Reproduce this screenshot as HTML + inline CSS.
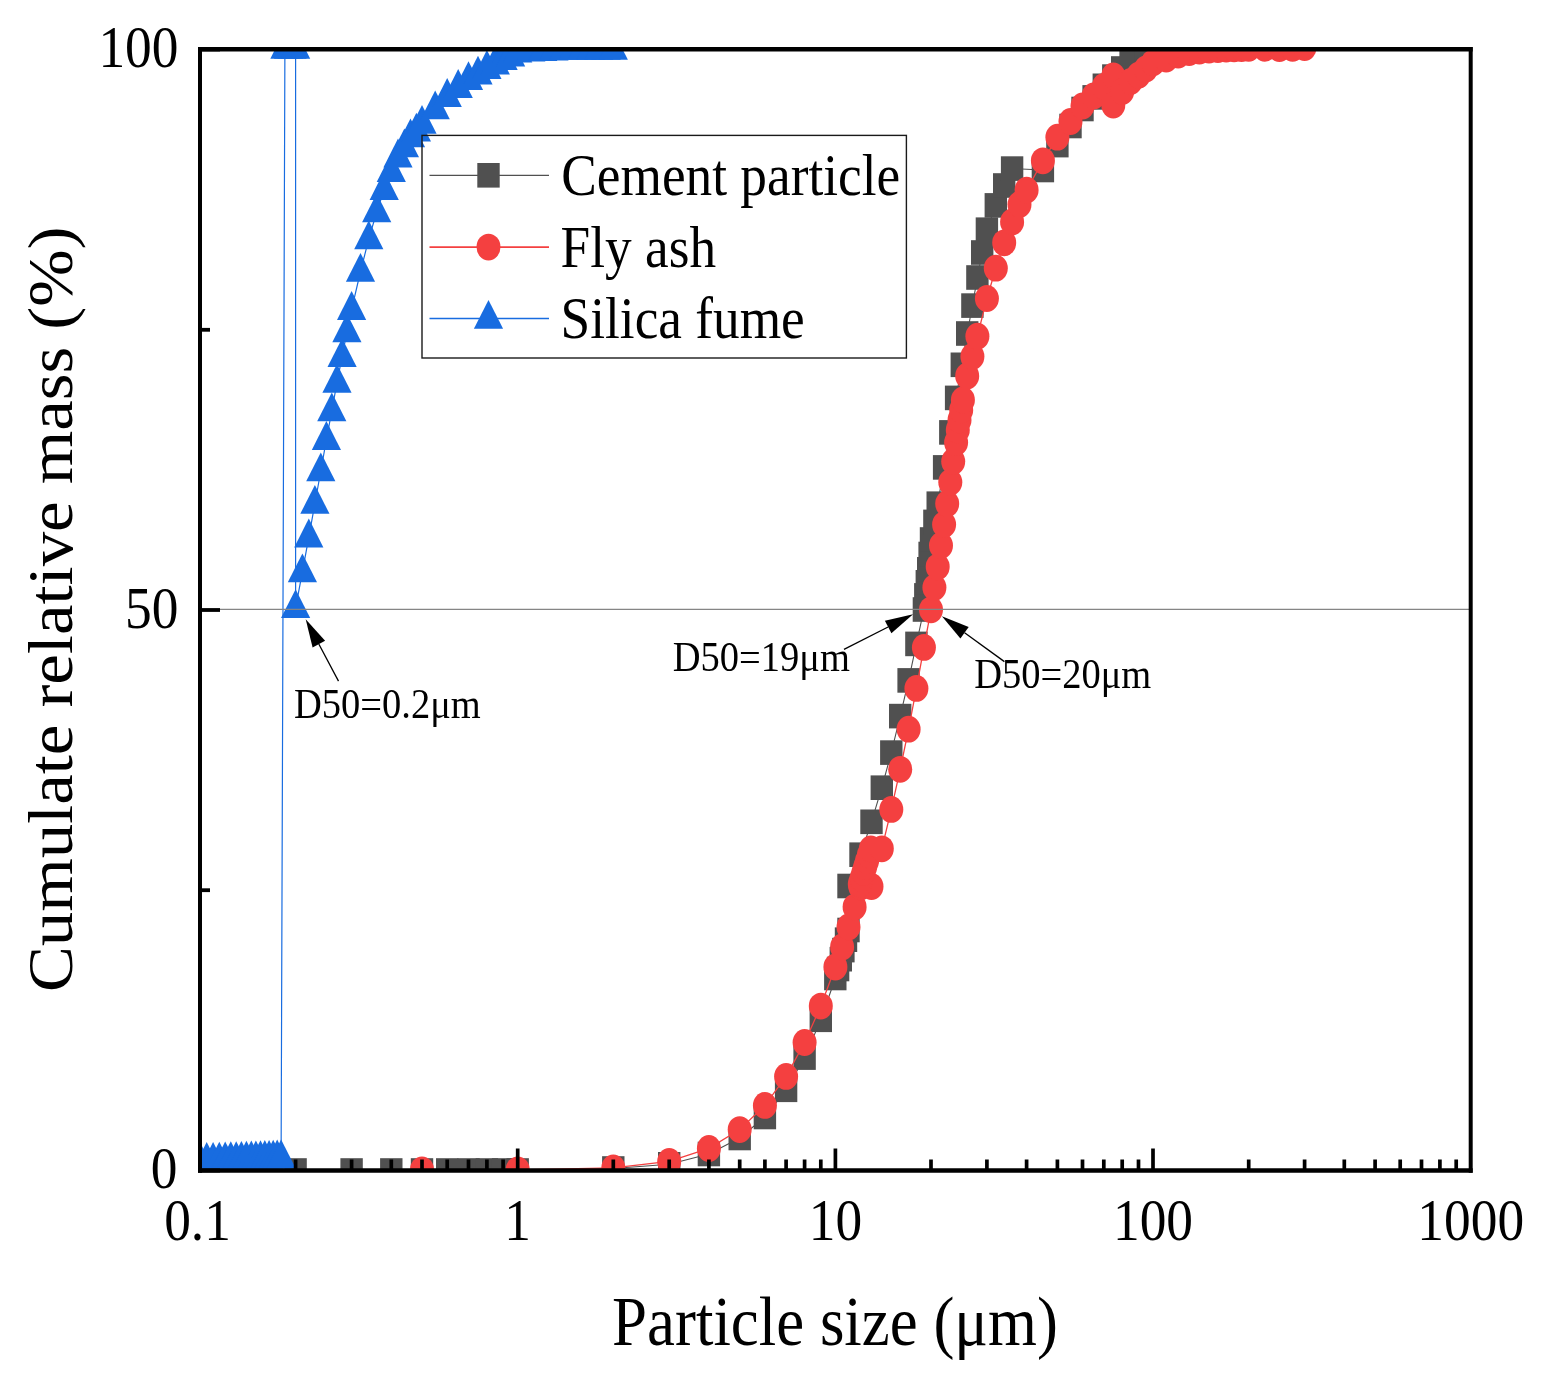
<!DOCTYPE html><html><head><meta charset="utf-8"><title>Particle size distribution</title><style>html,body{margin:0;padding:0;background:#fff;}svg{display:block}text{font-family:"Liberation Serif",serif;fill:#000}</style></head><body>
<svg width="1541" height="1383" viewBox="0 0 1541 1383">
<defs><clipPath id="pa"><rect x="200" y="49.5" width="1270.7" height="1121"/></clipPath></defs>
<g clip-path="url(#pa)">
<path d="M200.0,1170.5 L295.6,1170.5 L351.6,1170.5 L391.3,1170.5 L422.0,1170.5 L447.2,1170.5 L468.5,1170.5 L486.9,1170.5 L503.1,1170.5 L517.7,1170.5 L613.3,1168.5 L669.2,1164.3 L708.9,1154.0 L739.7,1138.0 L764.9,1117.0 L786.1,1089.8 L804.6,1057.6 L820.8,1019.8 L835.4,978.0 L838.1,969.0 L840.8,959.2 L843.4,950.1 L846.0,939.7 L848.5,930.0 L848.5,886.0 L860.5,854.7 L871.5,821.8 L881.8,787.7 L891.3,752.6 L900.2,716.1 L908.6,680.4 L916.4,643.9 L923.9,609.5 L925.3,595.4 L926.8,582.3 L928.2,569.3 L929.6,554.0 L931.0,539.5 L934.4,521.9 L937.7,503.7 L944.1,467.4 L950.3,432.4 L956.1,397.9 L961.8,364.8 L967.2,333.5 L972.4,305.6 L977.4,277.5 L982.2,252.5 L986.9,229.7 L995.8,205.4 L1004.2,185.5 L1012.1,168.6 L1042.9,170.0 L1057.4,145.1 L1070.5,126.0 L1082.5,109.0 L1093.6,97.4 L1103.8,85.8 L1113.3,76.6 L1122.2,68.5 L1130.6,62.0 L1138.5,56.0 L1145.9,52.0 L1153.0,49.5" fill="none" stroke="#505050" stroke-width="1.1"/>
<g fill="#505050"><rect x="188.8" y="1158.2" width="22.4" height="24.6"/><rect x="284.4" y="1158.2" width="22.4" height="24.6"/><rect x="340.4" y="1158.2" width="22.4" height="24.6"/><rect x="380.1" y="1158.2" width="22.4" height="24.6"/><rect x="410.8" y="1158.2" width="22.4" height="24.6"/><rect x="436.0" y="1158.2" width="22.4" height="24.6"/><rect x="457.3" y="1158.2" width="22.4" height="24.6"/><rect x="475.7" y="1158.2" width="22.4" height="24.6"/><rect x="491.9" y="1158.2" width="22.4" height="24.6"/><rect x="506.5" y="1158.2" width="22.4" height="24.6"/><rect x="602.1" y="1156.2" width="22.4" height="24.6"/><rect x="658.0" y="1152.0" width="22.4" height="24.6"/><rect x="697.7" y="1141.7" width="22.4" height="24.6"/><rect x="728.5" y="1125.7" width="22.4" height="24.6"/><rect x="753.7" y="1104.7" width="22.4" height="24.6"/><rect x="774.9" y="1077.5" width="22.4" height="24.6"/><rect x="793.4" y="1045.3" width="22.4" height="24.6"/><rect x="809.6" y="1007.5" width="22.4" height="24.6"/><rect x="824.1" y="965.7" width="22.4" height="24.6"/><rect x="826.9" y="956.7" width="22.4" height="24.6"/><rect x="829.6" y="946.9" width="22.4" height="24.6"/><rect x="832.2" y="937.8" width="22.4" height="24.6"/><rect x="834.8" y="927.4" width="22.4" height="24.6"/><rect x="837.3" y="917.7" width="22.4" height="24.6"/><rect x="837.3" y="873.7" width="22.4" height="24.6"/><rect x="849.3" y="842.4" width="22.4" height="24.6"/><rect x="860.3" y="809.5" width="22.4" height="24.6"/><rect x="870.6" y="775.4" width="22.4" height="24.6"/><rect x="880.1" y="740.3" width="22.4" height="24.6"/><rect x="889.0" y="703.8" width="22.4" height="24.6"/><rect x="897.4" y="668.1" width="22.4" height="24.6"/><rect x="905.2" y="631.6" width="22.4" height="24.6"/><rect x="912.7" y="597.2" width="22.4" height="24.6"/><rect x="914.1" y="583.1" width="22.4" height="24.6"/><rect x="915.6" y="570.0" width="22.4" height="24.6"/><rect x="917.0" y="557.0" width="22.4" height="24.6"/><rect x="918.4" y="541.7" width="22.4" height="24.6"/><rect x="919.8" y="527.2" width="22.4" height="24.6"/><rect x="923.2" y="509.6" width="22.4" height="24.6"/><rect x="926.5" y="491.4" width="22.4" height="24.6"/><rect x="932.9" y="455.1" width="22.4" height="24.6"/><rect x="939.1" y="420.1" width="22.4" height="24.6"/><rect x="944.9" y="385.6" width="22.4" height="24.6"/><rect x="950.6" y="352.5" width="22.4" height="24.6"/><rect x="956.0" y="321.2" width="22.4" height="24.6"/><rect x="961.2" y="293.3" width="22.4" height="24.6"/><rect x="966.2" y="265.2" width="22.4" height="24.6"/><rect x="971.0" y="240.2" width="22.4" height="24.6"/><rect x="975.7" y="217.4" width="22.4" height="24.6"/><rect x="984.6" y="193.1" width="22.4" height="24.6"/><rect x="993.0" y="173.2" width="22.4" height="24.6"/><rect x="1000.9" y="156.3" width="22.4" height="24.6"/><rect x="1031.7" y="157.7" width="22.4" height="24.6"/><rect x="1046.2" y="132.8" width="22.4" height="24.6"/><rect x="1059.3" y="113.7" width="22.4" height="24.6"/><rect x="1071.3" y="96.7" width="22.4" height="24.6"/><rect x="1082.4" y="85.1" width="22.4" height="24.6"/><rect x="1092.6" y="73.5" width="22.4" height="24.6"/><rect x="1102.1" y="64.3" width="22.4" height="24.6"/><rect x="1111.0" y="56.2" width="22.4" height="24.6"/><rect x="1119.4" y="49.7" width="22.4" height="24.6"/><rect x="1127.3" y="43.7" width="22.4" height="24.6"/><rect x="1134.7" y="39.7" width="22.4" height="24.6"/><rect x="1141.8" y="37.2" width="22.4" height="24.6"/></g>
<path d="M422.0,1169.8 L517.7,1169.8 L613.3,1167.9 L669.2,1161.4 L708.9,1148.4 L739.7,1129.6 L764.9,1105.4 L786.1,1076.4 L804.6,1042.5 L820.8,1006.1 L835.4,967.0 L842.1,946.9 L848.5,927.0 L854.6,907.1 L860.5,887.0 L871.5,886.5 L859.8,884.0 L861.6,878.2 L863.5,872.3 L865.3,866.5 L867.1,860.7 L869.0,854.8 L870.8,849.0 L881.8,848.8 L891.3,809.4 L900.2,769.3 L908.6,729.2 L916.4,688.4 L923.9,647.4 L931.0,609.8 L934.4,587.6 L937.7,566.8 L941.0,545.4 L944.1,524.6 L947.2,503.7 L950.3,482.3 L953.2,461.5 L956.1,442.6 L957.8,430.0 L959.5,420.0 L961.2,410.0 L962.9,400.0 L967.2,375.9 L972.4,356.4 L977.4,336.2 L986.9,298.5 L995.8,268.2 L1004.2,242.8 L1012.1,222.0 L1019.5,204.4 L1026.6,190.1 L1042.9,160.8 L1057.4,137.2 L1070.5,121.5 L1082.5,106.0 L1093.6,96.0 L1103.8,86.5 L1113.3,76.0 L1113.3,105.0 L1122.2,91.6 L1130.6,81.4 L1138.5,75.2 L1145.9,69.0 L1153.0,62.8 L1166.2,59.0 L1178.2,55.0 L1189.2,52.5 L1199.4,51.0 L1209.0,50.0 L1217.9,49.5 L1226.2,49.0 L1234.1,48.8 L1241.6,48.5 L1248.7,48.3 L1264.9,48.3 L1279.4,48.5 L1292.6,48.3 L1304.6,47.5" fill="none" stroke="#f44040" stroke-width="1.3"/>
<g fill="#f44040"><ellipse cx="422.0" cy="1169.8" rx="12" ry="13.4"/><ellipse cx="517.7" cy="1169.8" rx="12" ry="13.4"/><ellipse cx="613.3" cy="1167.9" rx="12" ry="13.4"/><ellipse cx="669.2" cy="1161.4" rx="12" ry="13.4"/><ellipse cx="708.9" cy="1148.4" rx="12" ry="13.4"/><ellipse cx="739.7" cy="1129.6" rx="12" ry="13.4"/><ellipse cx="764.9" cy="1105.4" rx="12" ry="13.4"/><ellipse cx="786.1" cy="1076.4" rx="12" ry="13.4"/><ellipse cx="804.6" cy="1042.5" rx="12" ry="13.4"/><ellipse cx="820.8" cy="1006.1" rx="12" ry="13.4"/><ellipse cx="835.4" cy="967.0" rx="12" ry="13.4"/><ellipse cx="842.1" cy="946.9" rx="12" ry="13.4"/><ellipse cx="848.5" cy="927.0" rx="12" ry="13.4"/><ellipse cx="854.6" cy="907.1" rx="12" ry="13.4"/><ellipse cx="860.5" cy="887.0" rx="12" ry="13.4"/><ellipse cx="871.5" cy="886.5" rx="12" ry="13.4"/><ellipse cx="859.8" cy="884.0" rx="12" ry="13.4"/><ellipse cx="861.6" cy="878.2" rx="12" ry="13.4"/><ellipse cx="863.5" cy="872.3" rx="12" ry="13.4"/><ellipse cx="865.3" cy="866.5" rx="12" ry="13.4"/><ellipse cx="867.1" cy="860.7" rx="12" ry="13.4"/><ellipse cx="869.0" cy="854.8" rx="12" ry="13.4"/><ellipse cx="870.8" cy="849.0" rx="12" ry="13.4"/><ellipse cx="881.8" cy="848.8" rx="12" ry="13.4"/><ellipse cx="891.3" cy="809.4" rx="12" ry="13.4"/><ellipse cx="900.2" cy="769.3" rx="12" ry="13.4"/><ellipse cx="908.6" cy="729.2" rx="12" ry="13.4"/><ellipse cx="916.4" cy="688.4" rx="12" ry="13.4"/><ellipse cx="923.9" cy="647.4" rx="12" ry="13.4"/><ellipse cx="931.0" cy="609.8" rx="12" ry="13.4"/><ellipse cx="934.4" cy="587.6" rx="12" ry="13.4"/><ellipse cx="937.7" cy="566.8" rx="12" ry="13.4"/><ellipse cx="941.0" cy="545.4" rx="12" ry="13.4"/><ellipse cx="944.1" cy="524.6" rx="12" ry="13.4"/><ellipse cx="947.2" cy="503.7" rx="12" ry="13.4"/><ellipse cx="950.3" cy="482.3" rx="12" ry="13.4"/><ellipse cx="953.2" cy="461.5" rx="12" ry="13.4"/><ellipse cx="956.1" cy="442.6" rx="12" ry="13.4"/><ellipse cx="957.8" cy="430.0" rx="12" ry="13.4"/><ellipse cx="959.5" cy="420.0" rx="12" ry="13.4"/><ellipse cx="961.2" cy="410.0" rx="12" ry="13.4"/><ellipse cx="962.9" cy="400.0" rx="12" ry="13.4"/><ellipse cx="967.2" cy="375.9" rx="12" ry="13.4"/><ellipse cx="972.4" cy="356.4" rx="12" ry="13.4"/><ellipse cx="977.4" cy="336.2" rx="12" ry="13.4"/><ellipse cx="986.9" cy="298.5" rx="12" ry="13.4"/><ellipse cx="995.8" cy="268.2" rx="12" ry="13.4"/><ellipse cx="1004.2" cy="242.8" rx="12" ry="13.4"/><ellipse cx="1012.1" cy="222.0" rx="12" ry="13.4"/><ellipse cx="1019.5" cy="204.4" rx="12" ry="13.4"/><ellipse cx="1026.6" cy="190.1" rx="12" ry="13.4"/><ellipse cx="1042.9" cy="160.8" rx="12" ry="13.4"/><ellipse cx="1057.4" cy="137.2" rx="12" ry="13.4"/><ellipse cx="1070.5" cy="121.5" rx="12" ry="13.4"/><ellipse cx="1082.5" cy="106.0" rx="12" ry="13.4"/><ellipse cx="1093.6" cy="96.0" rx="12" ry="13.4"/><ellipse cx="1103.8" cy="86.5" rx="12" ry="13.4"/><ellipse cx="1113.3" cy="76.0" rx="12" ry="13.4"/><ellipse cx="1113.3" cy="105.0" rx="12" ry="13.4"/><ellipse cx="1122.2" cy="91.6" rx="12" ry="13.4"/><ellipse cx="1130.6" cy="81.4" rx="12" ry="13.4"/><ellipse cx="1138.5" cy="75.2" rx="12" ry="13.4"/><ellipse cx="1145.9" cy="69.0" rx="12" ry="13.4"/><ellipse cx="1153.0" cy="62.8" rx="12" ry="13.4"/><ellipse cx="1166.2" cy="59.0" rx="12" ry="13.4"/><ellipse cx="1178.2" cy="55.0" rx="12" ry="13.4"/><ellipse cx="1189.2" cy="52.5" rx="12" ry="13.4"/><ellipse cx="1199.4" cy="51.0" rx="12" ry="13.4"/><ellipse cx="1209.0" cy="50.0" rx="12" ry="13.4"/><ellipse cx="1217.9" cy="49.5" rx="12" ry="13.4"/><ellipse cx="1226.2" cy="49.0" rx="12" ry="13.4"/><ellipse cx="1234.1" cy="48.8" rx="12" ry="13.4"/><ellipse cx="1241.6" cy="48.5" rx="12" ry="13.4"/><ellipse cx="1248.7" cy="48.3" rx="12" ry="13.4"/><ellipse cx="1264.9" cy="48.3" rx="12" ry="13.4"/><ellipse cx="1279.4" cy="48.5" rx="12" ry="13.4"/><ellipse cx="1292.6" cy="48.3" rx="12" ry="13.4"/><ellipse cx="1304.6" cy="47.5" rx="12" ry="13.4"/></g>
<path d="M200.0,1160.7 L206.7,1160.5 L213.1,1160.4 L219.3,1160.2 L225.2,1160.0 L230.8,1159.8 L236.2,1159.7 L241.4,1159.5 L246.4,1159.3 L251.3,1159.1 L255.9,1159.0 L260.5,1158.8 L264.8,1158.6 L269.1,1158.4 L273.2,1158.2 L277.2,1158.1 L281.1,1157.9 L284.9,48.4 L288.6,48.4 L292.1,48.4 L295.6,48.4 L295.6,607.8 L302.4,571.9 L308.8,537.1 L314.9,503.5 L320.8,471.0 L326.4,439.6 L331.8,411.0 L337.0,382.4 L342.1,356.7 L346.9,332.0 L351.6,309.6 L360.5,271.5 L368.8,238.9 L376.7,212.0 L384.2,189.6 L391.3,171.7 L398.0,157.1 L404.4,147.0 L410.5,136.9 L416.4,131.3 L422.0,123.5 L435.2,108.9 L447.2,96.6 L458.2,87.6 L468.5,79.8 L478.0,74.2 L486.9,68.6 L495.3,64.1 L503.1,59.6 L510.6,56.2 L517.7,52.3 L530.8,51.2 L542.8,50.6 L553.9,50.1 L564.1,49.5 L573.6,49.5 L582.5,49.5 L590.9,49.5 L598.8,49.5 L606.2,49.5 L613.3,49.5" fill="none" stroke="#186ce0" stroke-width="1.2"/>
<g fill="#186ce0"><path d="M200.0,1142.2 L214.6,1171.0 L185.4,1171.0Z"/><path d="M206.7,1142.0 L221.3,1170.8 L192.1,1170.8Z"/><path d="M213.1,1141.9 L227.7,1170.7 L198.5,1170.7Z"/><path d="M219.3,1141.7 L233.9,1170.5 L204.7,1170.5Z"/><path d="M225.2,1141.5 L239.8,1170.3 L210.6,1170.3Z"/><path d="M230.8,1141.3 L245.4,1170.1 L216.2,1170.1Z"/><path d="M236.2,1141.2 L250.8,1170.0 L221.6,1170.0Z"/><path d="M241.4,1141.0 L256.0,1169.8 L226.8,1169.8Z"/><path d="M246.4,1140.8 L261.0,1169.6 L231.8,1169.6Z"/><path d="M251.3,1140.6 L265.9,1169.4 L236.7,1169.4Z"/><path d="M255.9,1140.5 L270.5,1169.2 L241.3,1169.2Z"/><path d="M260.5,1140.3 L275.1,1169.1 L245.9,1169.1Z"/><path d="M264.8,1140.1 L279.4,1168.9 L250.2,1168.9Z"/><path d="M269.1,1139.9 L283.7,1168.7 L254.5,1168.7Z"/><path d="M273.2,1139.8 L287.8,1168.5 L258.6,1168.5Z"/><path d="M277.2,1139.6 L291.8,1168.4 L262.6,1168.4Z"/><path d="M281.1,1139.4 L295.7,1168.2 L266.5,1168.2Z"/><path d="M284.9,29.9 L299.5,58.7 L270.3,58.7Z"/><path d="M288.6,29.9 L303.2,58.7 L274.0,58.7Z"/><path d="M292.1,29.9 L306.7,58.7 L277.5,58.7Z"/><path d="M295.6,29.9 L310.2,58.7 L281.0,58.7Z"/><path d="M295.6,589.3 L310.2,618.1 L281.0,618.1Z"/><path d="M302.4,553.4 L317.0,582.2 L287.8,582.2Z"/><path d="M308.8,518.6 L323.4,547.4 L294.2,547.4Z"/><path d="M314.9,485.0 L329.5,513.8 L300.3,513.8Z"/><path d="M320.8,452.5 L335.4,481.3 L306.2,481.3Z"/><path d="M326.4,421.1 L341.0,449.9 L311.8,449.9Z"/><path d="M331.8,392.5 L346.4,421.3 L317.2,421.3Z"/><path d="M337.0,363.9 L351.6,392.7 L322.4,392.7Z"/><path d="M342.1,338.2 L356.7,367.0 L327.5,367.0Z"/><path d="M346.9,313.5 L361.5,342.3 L332.3,342.3Z"/><path d="M351.6,291.1 L366.2,319.9 L337.0,319.9Z"/><path d="M360.5,253.0 L375.1,281.8 L345.9,281.8Z"/><path d="M368.8,220.4 L383.4,249.2 L354.2,249.2Z"/><path d="M376.7,193.5 L391.3,222.3 L362.1,222.3Z"/><path d="M384.2,171.1 L398.8,199.9 L369.6,199.9Z"/><path d="M391.3,153.2 L405.9,182.0 L376.7,182.0Z"/><path d="M398.0,138.6 L412.6,167.4 L383.4,167.4Z"/><path d="M404.4,128.5 L419.0,157.3 L389.8,157.3Z"/><path d="M410.5,118.4 L425.1,147.2 L395.9,147.2Z"/><path d="M416.4,112.8 L431.0,141.6 L401.8,141.6Z"/><path d="M422.0,105.0 L436.6,133.8 L407.4,133.8Z"/><path d="M435.2,90.4 L449.8,119.2 L420.6,119.2Z"/><path d="M447.2,78.1 L461.8,106.9 L432.6,106.9Z"/><path d="M458.2,69.1 L472.8,97.9 L443.6,97.9Z"/><path d="M468.5,61.3 L483.1,90.1 L453.9,90.1Z"/><path d="M478.0,55.7 L492.6,84.5 L463.4,84.5Z"/><path d="M486.9,50.1 L501.5,78.9 L472.3,78.9Z"/><path d="M495.3,45.6 L509.9,74.4 L480.7,74.4Z"/><path d="M503.1,41.1 L517.7,69.9 L488.5,69.9Z"/><path d="M510.6,37.7 L525.2,66.5 L496.0,66.5Z"/><path d="M517.7,33.8 L532.3,62.6 L503.1,62.6Z"/><path d="M530.8,32.7 L545.4,61.5 L516.2,61.5Z"/><path d="M542.8,32.1 L557.4,60.9 L528.2,60.9Z"/><path d="M553.9,31.6 L568.5,60.4 L539.3,60.4Z"/><path d="M564.1,31.0 L578.7,59.8 L549.5,59.8Z"/><path d="M573.6,31.0 L588.2,59.8 L559.0,59.8Z"/><path d="M582.5,31.0 L597.1,59.8 L567.9,59.8Z"/><path d="M590.9,31.0 L605.5,59.8 L576.3,59.8Z"/><path d="M598.8,31.0 L613.4,59.8 L584.2,59.8Z"/><path d="M606.2,31.0 L620.8,59.8 L591.6,59.8Z"/><path d="M613.3,31.0 L627.9,59.8 L598.7,59.8Z"/></g>
</g>
<line x1="200" y1="609.3" x2="1470.7" y2="609.3" stroke="#858585" stroke-width="1.15"/>
<g stroke="#000" fill="none">
<line x1="200" y1="47" x2="200" y2="1172.8" stroke-width="4"/>
<line x1="1470.7" y1="47" x2="1470.7" y2="1172.8" stroke-width="4"/>
<line x1="198" y1="49.3" x2="1472.7" y2="49.3" stroke-width="4.5"/>
<line x1="198" y1="1170.5" x2="1472.7" y2="1170.5" stroke-width="4.5"/>
<line x1="200" y1="1170.5" x2="220" y2="1170.5" stroke-width="3.8"/>
<line x1="200" y1="890.2" x2="210" y2="890.2" stroke-width="3.8"/>
<line x1="200" y1="610.0" x2="220" y2="610.0" stroke-width="3.8"/>
<line x1="200" y1="329.8" x2="210" y2="329.8" stroke-width="3.8"/>
<line x1="200" y1="49.5" x2="220" y2="49.5" stroke-width="3.8"/>
<line x1="295.6" y1="1170.5" x2="295.6" y2="1159.5" stroke-width="3.7"/>
<line x1="351.6" y1="1170.5" x2="351.6" y2="1159.5" stroke-width="3.7"/>
<line x1="391.3" y1="1170.5" x2="391.3" y2="1159.5" stroke-width="3.7"/>
<line x1="422.0" y1="1170.5" x2="422.0" y2="1159.5" stroke-width="3.7"/>
<line x1="447.2" y1="1170.5" x2="447.2" y2="1159.5" stroke-width="3.7"/>
<line x1="468.5" y1="1170.5" x2="468.5" y2="1159.5" stroke-width="3.7"/>
<line x1="486.9" y1="1170.5" x2="486.9" y2="1159.5" stroke-width="3.7"/>
<line x1="503.1" y1="1170.5" x2="503.1" y2="1159.5" stroke-width="3.7"/>
<line x1="517.7" y1="1170.5" x2="517.7" y2="1148.5" stroke-width="3.7"/>
<line x1="613.3" y1="1170.5" x2="613.3" y2="1159.5" stroke-width="3.7"/>
<line x1="669.2" y1="1170.5" x2="669.2" y2="1159.5" stroke-width="3.7"/>
<line x1="708.9" y1="1170.5" x2="708.9" y2="1159.5" stroke-width="3.7"/>
<line x1="739.7" y1="1170.5" x2="739.7" y2="1159.5" stroke-width="3.7"/>
<line x1="764.9" y1="1170.5" x2="764.9" y2="1159.5" stroke-width="3.7"/>
<line x1="786.1" y1="1170.5" x2="786.1" y2="1159.5" stroke-width="3.7"/>
<line x1="804.6" y1="1170.5" x2="804.6" y2="1159.5" stroke-width="3.7"/>
<line x1="820.8" y1="1170.5" x2="820.8" y2="1159.5" stroke-width="3.7"/>
<line x1="835.4" y1="1170.5" x2="835.4" y2="1148.5" stroke-width="3.7"/>
<line x1="931.0" y1="1170.5" x2="931.0" y2="1159.5" stroke-width="3.7"/>
<line x1="986.9" y1="1170.5" x2="986.9" y2="1159.5" stroke-width="3.7"/>
<line x1="1026.6" y1="1170.5" x2="1026.6" y2="1159.5" stroke-width="3.7"/>
<line x1="1057.4" y1="1170.5" x2="1057.4" y2="1159.5" stroke-width="3.7"/>
<line x1="1082.5" y1="1170.5" x2="1082.5" y2="1159.5" stroke-width="3.7"/>
<line x1="1103.8" y1="1170.5" x2="1103.8" y2="1159.5" stroke-width="3.7"/>
<line x1="1122.2" y1="1170.5" x2="1122.2" y2="1159.5" stroke-width="3.7"/>
<line x1="1138.5" y1="1170.5" x2="1138.5" y2="1159.5" stroke-width="3.7"/>
<line x1="1153.0" y1="1170.5" x2="1153.0" y2="1148.5" stroke-width="3.7"/>
<line x1="1248.7" y1="1170.5" x2="1248.7" y2="1159.5" stroke-width="3.7"/>
<line x1="1304.6" y1="1170.5" x2="1304.6" y2="1159.5" stroke-width="3.7"/>
<line x1="1344.3" y1="1170.5" x2="1344.3" y2="1159.5" stroke-width="3.7"/>
<line x1="1375.1" y1="1170.5" x2="1375.1" y2="1159.5" stroke-width="3.7"/>
<line x1="1400.2" y1="1170.5" x2="1400.2" y2="1159.5" stroke-width="3.7"/>
<line x1="1421.5" y1="1170.5" x2="1421.5" y2="1159.5" stroke-width="3.7"/>
<line x1="1439.9" y1="1170.5" x2="1439.9" y2="1159.5" stroke-width="3.7"/>
<line x1="1456.2" y1="1170.5" x2="1456.2" y2="1159.5" stroke-width="3.7"/>
</g>
<text transform="translate(177.4,1188.1) scale(1,1.1)" font-size="53.4" text-anchor="end">0</text>
<text transform="translate(178.5,627.6) scale(1,1.1)" font-size="53.4" text-anchor="end">50</text>
<text transform="translate(178.5,67.1) scale(1,1.1)" font-size="53.4" text-anchor="end">100</text>
<text transform="translate(197.5,1239.9) scale(1,1.1)" font-size="53.4" text-anchor="middle">0.1</text>
<text transform="translate(517.7,1239.9) scale(1,1.1)" font-size="53.4" text-anchor="middle">1</text>
<text transform="translate(835.4,1239.9) scale(1,1.1)" font-size="53.4" text-anchor="middle">10</text>
<text transform="translate(1153.0,1239.9) scale(1,1.1)" font-size="53.4" text-anchor="middle">100</text>
<text transform="translate(1470.7,1239.9) scale(1,1.1)" font-size="53.4" text-anchor="middle">1000</text>
<text transform="translate(835.0,1344.7) scale(1,1.1)" font-size="62.9" text-anchor="middle">Particle size (μm)</text>
<text transform="translate(72.3,609.3) scale(1,1.1) rotate(-90)" font-size="62.5" text-anchor="middle">Cumulate relative mass (%)</text>
<rect x="422" y="135.4" width="484.4" height="222.6" fill="none" stroke="#1a1a1a" stroke-width="1.4"/>
<line x1="429.5" y1="175.3" x2="549" y2="175.3" stroke="#505050" stroke-width="1.3"/>
<g fill="#505050"><rect x="477.3" y="163.0" width="22.4" height="24.6"/></g>
<text transform="translate(561.3,194.8) scale(1,1.1)" font-size="53.3" text-anchor="start">Cement particle</text>
<line x1="429.5" y1="247.1" x2="549" y2="247.1" stroke="#f44040" stroke-width="1.9"/>
<g fill="#f44040"><ellipse cx="488.5" cy="247.1" rx="12" ry="13.4"/></g>
<text transform="translate(560.6,266.6) scale(1,1.1)" font-size="53.3" text-anchor="start">Fly ash</text>
<line x1="429.5" y1="318.5" x2="549" y2="318.5" stroke="#186ce0" stroke-width="1.3"/>
<g fill="#186ce0"><path d="M488.5,300.0 L503.1,328.8 L473.9,328.8Z"/></g>
<text transform="translate(560.6,338.0) scale(1,1.1)" font-size="53.3" text-anchor="start">Silica fume</text>
<line x1="318.8" y1="644.0" x2="338.5" y2="681.1" stroke="#000" stroke-width="1.3"/><path d="M305.7,619.3 L312.6,647.4 L325.1,640.7Z" fill="#000"/>
<line x1="888.1" y1="627.0" x2="844.0" y2="649.4" stroke="#000" stroke-width="1.3"/><path d="M913.1,614.3 L884.9,620.7 L891.4,633.3Z" fill="#000"/>
<line x1="964.6" y1="632.7" x2="1004.4" y2="661.6" stroke="#000" stroke-width="1.3"/><path d="M941.9,616.2 L960.4,638.4 L968.7,626.9Z" fill="#000"/>
<text transform="translate(294.0,717.5) scale(1,1.1)" font-size="38.5" text-anchor="start">D50=0.2μm</text>
<text transform="translate(672.8,670.8) scale(1,1.1)" font-size="38.5" text-anchor="start">D50=19μm</text>
<text transform="translate(974.2,688.0) scale(1,1.1)" font-size="38.5" text-anchor="start">D50=20μm</text>
</svg></body></html>
